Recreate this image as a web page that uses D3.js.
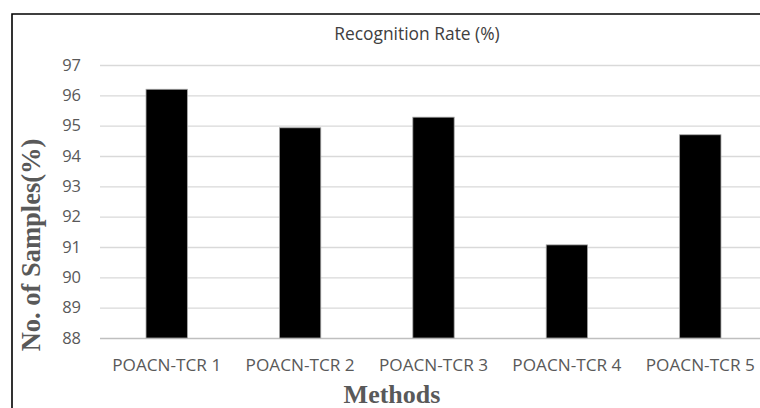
<!DOCTYPE html>
<html><head><meta charset="utf-8">
<script src="https://cdn.jsdelivr.net/npm/d3@7"></script>
<style>html,body{margin:0;padding:0;background:#fff;overflow:hidden}</style>
</head><body>
<svg id="c" width="760" height="408"></svg>
<script>
const categories = ["POACN-TCR 1","POACN-TCR 2","POACN-TCR 3","POACN-TCR 4","POACN-TCR 5"];
const values = [96.2, 94.93, 95.28, 91.07, 94.7];
const yTicks = [88,89,90,91,92,93,94,95,96,97];
const title = "Recognition Rate (%)";
const yTitle = "No. of Samples(%)";
const xTitle = "Methods";

const svg = d3.select("#c");
const y = d3.scaleLinear().domain([88,97]).range([338,65]);
const x = d3.scaleBand().domain(categories).range([100,767]).paddingInner(0.69).paddingOuter(0.345);

// border
svg.append("path").attr("d","M12,408 V14 H770").attr("fill","none").attr("stroke","#000").attr("stroke-width",1.6);

// gridlines
const yAxis = d3.axisLeft(y).tickValues(yTicks).tickSize(-(760-100)).tickPadding(19).tickFormat(d3.format("d"));
const gy = svg.append("g").attr("transform","translate(100,0)").call(yAxis);
gy.select(".domain").remove();
gy.selectAll(".tick line").attr("stroke","#d9d9d9").attr("stroke-width",1.3);
gy.selectAll(".tick text").attr("fill","#595959").style("font-family","Open Sans").style("font-size","16.5px");
gy.selectAll(".tick").filter(d=>d===88).select("line").attr("stroke","#bfbfbf");

// bars
svg.append("g").selectAll("rect").data(values).join("rect")
  .attr("x",(d,i)=>x(categories[i]))
  .attr("width",x.bandwidth())
  .attr("y",d=>y(d))
  .attr("height",d=>y(88)-y(d))
  .attr("fill","#000").attr("stroke","#a6a6a6").attr("stroke-width",0.8);

// x labels
const xAxis = d3.axisBottom(x).tickSize(0).tickPadding(21);
const gx = svg.append("g").attr("transform","translate(0,338)").call(xAxis);
gx.select(".domain").remove();
gx.selectAll(".tick text").attr("fill","#595959").style("font-family","Open Sans").style("font-size","17.2px");

// title
svg.append("text").attr("x",417).attr("y",40).attr("text-anchor","middle")
  .attr("fill","#404040").style("font-family","Open Sans").style("font-size","17.4px").text(title);

// axis titles
svg.append("text").attr("transform","translate(40,245) rotate(-90)").attr("text-anchor","middle")
  .attr("fill","#595959").style("font-family","Liberation Serif").style("font-weight","bold").style("font-size","26.5px").text(yTitle);
svg.append("text").attr("x",392).attr("y",403).attr("text-anchor","middle")
  .attr("fill","#595959").style("font-family","Liberation Serif").style("font-weight","bold").style("font-size","26px").text(xTitle);
</script>
</body></html>
